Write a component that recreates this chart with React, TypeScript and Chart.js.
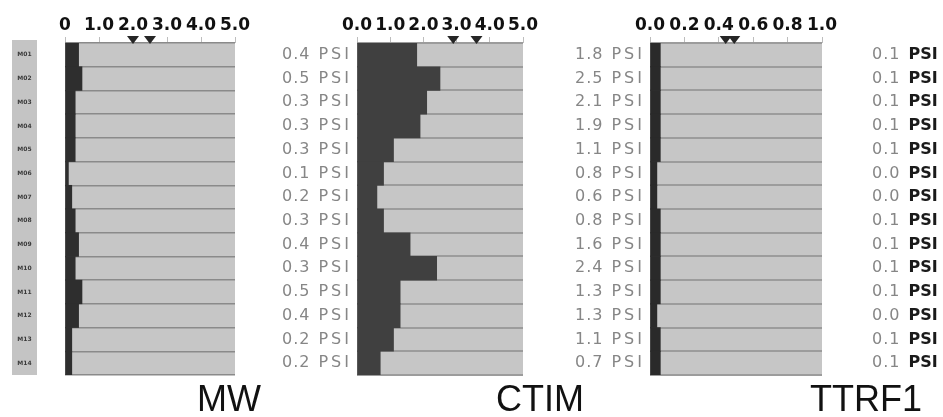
import React, { useEffect, useRef } from "react";
import { Chart, registerables } from "chart.js";

Chart.register(...registerables);

const ROW_IDS = ["M01", "M02", "M03", "M04", "M05", "M06", "M07", "M08", "M09", "M10", "M11", "M12", "M13", "M14"];

const MW_VALUES = [0.4, 0.5, 0.3, 0.3, 0.3, 0.1, 0.2, 0.3, 0.4, 0.3, 0.5, 0.4, 0.2, 0.2];
const CTIM_VALUES = [1.8, 2.5, 2.1, 1.9, 1.1, 0.8, 0.6, 0.8, 1.6, 2.4, 1.3, 1.3, 1.1, 0.7];
const TTRF1_VALUES = [0.06, 0.06, 0.06, 0.06, 0.06, 0.04, 0.04, 0.06, 0.06, 0.06, 0.06, 0.04, 0.06, 0.06];

const MW_TICKS = ["0", "1.0", "2.0", "3.0", "4.0", "5.0"];
const CTIM_TICKS = ["0.0", "1.0", "2.0", "3.0", "4.0", "5.0"];
const TTRF1_TICKS = ["0.0", "0.2", "0.4", "0.6", "0.8", "1.0"];

const MW_MARKERS = [2.0, 2.5];
const CTIM_MARKERS = [2.9, 3.6];
const TTRF1_MARKERS = [0.44, 0.49];

const UNIT = "PSI";

type PanelProps = {
  values: number[];
  ticks: string[];
  max: number;
  step: number;
  markers: number[];
  canvasLeft: number;
  canvasWidth: number;
  padLeft: number;
  padRight: number;
  labelOffset: number;
  unitBold: boolean;
  showIds: boolean;
  barColor: string;
  gridColor: string;
  gridWidth: number;
};

function Panel(p: PanelProps) {
  const ref = useRef<HTMLCanvasElement>(null);
  useEffect(() => {
    const panelPlugin = {
      id: "panelDeco",
      beforeDraw(chart: any) {
        const { ctx, chartArea: a } = chart;
        ctx.save();
        ctx.fillStyle = "#c6c6c6";
        ctx.fillRect(a.left, a.top, a.right - a.left, a.bottom - a.top);
        if (p.showIds) {
          const ys = chart.scales.y;
          ctx.fillStyle = "#c4c4c4";
          ctx.fillRect(a.left - 53, a.top - 3, 25, a.bottom - a.top + 3);
          ctx.fillStyle = "#3a3a3a";
          ctx.font = "bold 6px 'DejaVu Sans'";
          ctx.textAlign = "center";
          ctx.textBaseline = "middle";
          ROW_IDS.forEach((id, i) => {
            ctx.fillText(id, a.left - 40.5, ys.getPixelForValue(i));
          });
        }
        ctx.restore();
      },
      afterDraw(chart: any) {
        const { ctx, chartArea: a } = chart;
        const xs = chart.scales.x;
        const ys = chart.scales.y;
        ctx.save();
        ctx.fillStyle = "#262626";
        p.markers.forEach((m) => {
          const x = xs.getPixelForValue(m);
          ctx.beginPath();
          ctx.moveTo(x - 6, a.top - 7);
          ctx.lineTo(x + 6, a.top - 7);
          ctx.lineTo(x, a.top + 1);
          ctx.closePath();
          ctx.fill();
        });
        ctx.textBaseline = "middle";
        ctx.textAlign = "left";
        p.values.forEach((v, i) => {
          const y = ys.getPixelForValue(i);
          const x0 = a.right + p.labelOffset;
          const num = v.toFixed(1);
          ctx.font = "16px 'DejaVu Sans'";
          (ctx as any).letterSpacing = "1px";
          ctx.fillStyle = "#868686";
          ctx.fillText(num, x0, y);
          const w = ctx.measureText(num).width;
          if (p.unitBold) {
            ctx.font = "bold 16px 'DejaVu Sans'";
            (ctx as any).letterSpacing = "0px";
            ctx.fillStyle = "#1a1a1a";
          } else {
            ctx.font = "16px 'DejaVu Sans'";
            (ctx as any).letterSpacing = "3px";
            ctx.fillStyle = "#868686";
          }
          ctx.fillText(UNIT, x0 + w + 8, y);
        });
        (ctx as any).letterSpacing = "0px";
        ctx.restore();
      },
    };

    const chart = new Chart(ref.current!, {
      type: "bar",
      data: {
        labels: ROW_IDS,
        datasets: [
          {
            data: p.values,
            backgroundColor: p.barColor,
            borderWidth: 0,
            barPercentage: 1,
            categoryPercentage: 1,
          },
        ],
      },
      options: {
        indexAxis: "y",
        responsive: false,
        maintainAspectRatio: false,
        animation: false,
        layout: {
          autoPadding: false,
          padding: { left: p.padLeft, right: p.padRight, top: 0, bottom: 5 },
        },
        plugins: { legend: { display: false }, tooltip: { enabled: false } },
        scales: {
          x: {
            position: "top",
            min: 0,
            max: p.max,
            afterFit: (s: any) => {
              s.height = 43;
            },
            grid: { drawOnChartArea: false, drawTicks: true, tickLength: 6, color: "#bdbdbd" },
            border: { display: false },
            ticks: {
              stepSize: p.step,
              autoSkip: false,
              maxRotation: 0,
              padding: 1,
              color: "#111111",
              font: { family: "'DejaVu Sans'", size: 17, weight: "bold" },
              callback: (_v: any, i: number) => p.ticks[i],
            },
          },
          y: {
            afterFit: (s: any) => {
              s.width = 0;
            },
            ticks: { display: false },
            border: { display: false },
            grid: { drawTicks: false, color: p.gridColor, lineWidth: p.gridWidth },
          },
        },
      },
      plugins: [panelPlugin],
    } as any);
    return () => chart.destroy();
  }, []);
  return (
    <canvas
      ref={ref}
      width={p.canvasWidth}
      height={380}
      style={{ position: "absolute", left: p.canvasLeft, top: 0 }}
    />
  );
}

const titleStyle = (left: number): React.CSSProperties => ({
  position: "absolute",
  left,
  top: 381,
  fontFamily: "'Liberation Sans', Arial, sans-serif",
  fontSize: 36,
  lineHeight: "36px",
  color: "#111",
  whiteSpace: "nowrap",
});

export default function App() {
  return (
    <div
      style={{
        position: "absolute",
        left: 0,
        top: 0,
        width: 943,
        height: 417,
        background: "#ffffff",
        overflow: "hidden",
      }}
    >
      <Panel
        values={MW_VALUES}
        ticks={MW_TICKS}
        max={5}
        step={1}
        markers={MW_MARKERS}
        canvasLeft={0}
        canvasWidth={400}
        padLeft={65}
        padRight={165}
        labelOffset={47}
        unitBold={false}
        showIds={true}
        barColor="#2e2e2e"
        gridColor="#8a8a8a"
        gridWidth={1.5}
      />
      <Panel
        values={CTIM_VALUES}
        ticks={CTIM_TICKS}
        max={5}
        step={1}
        markers={CTIM_MARKERS}
        canvasLeft={300}
        canvasWidth={400}
        padLeft={57}
        padRight={177}
        labelOffset={52}
        unitBold={false}
        showIds={false}
        barColor="#404040"
        gridColor="#9c9c9c"
        gridWidth={2}
      />
      <Panel
        values={TTRF1_VALUES}
        ticks={TTRF1_TICKS}
        max={1}
        step={0.2}
        markers={TTRF1_MARKERS}
        canvasLeft={600}
        canvasWidth={343}
        padLeft={50}
        padRight={121}
        labelOffset={50}
        unitBold={true}
        showIds={false}
        barColor="#2a2a2a"
        gridColor="#9c9c9c"
        gridWidth={2}
      />
      <div style={titleStyle(197)}>MW</div>
      <div style={titleStyle(496)}>CTIM</div>
      <div style={titleStyle(810)}>TTRF1</div>
    </div>
  );
}
